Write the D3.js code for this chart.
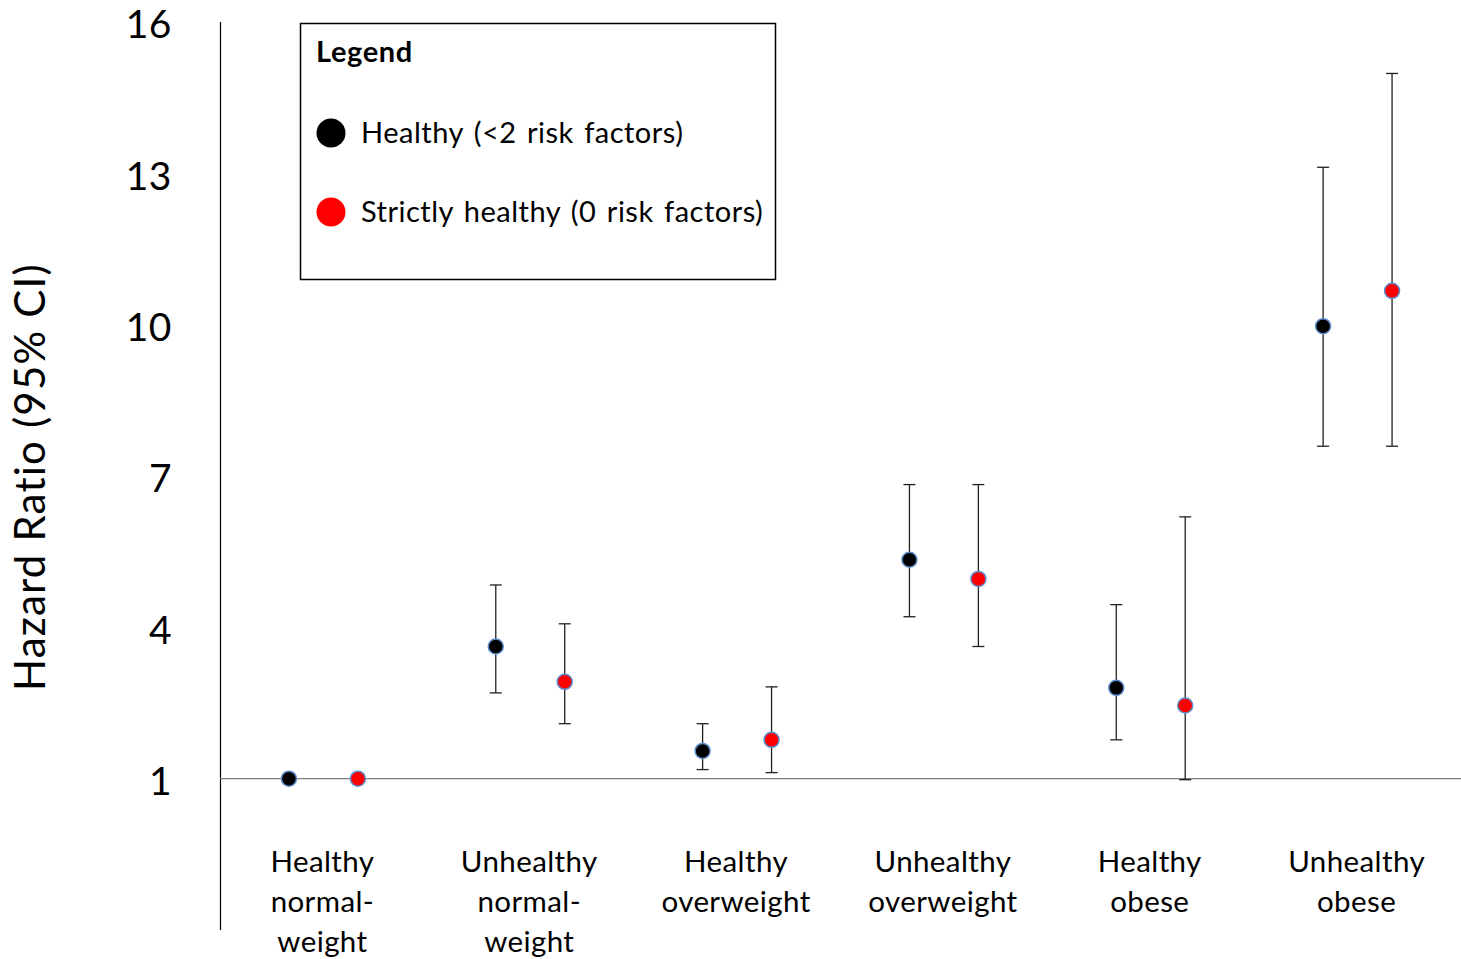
<!DOCTYPE html>
<html>
<head>
<meta charset="utf-8">
<script src="https://cdn.jsdelivr.net/npm/d3@7"></script>
<style>
  body { margin: 0; background: #fff; }
  svg text { font-family: Lato, "Open Sans", sans-serif; fill: #000; }
</style>
</head>
<body>
<svg id="chart" width="1461" height="959"></svg>
<script>
const categories = [
    ["Healthy", "normal-", "weight"],
    ["Unhealthy", "normal-", "weight"],
    ["Healthy", "overweight"],
    ["Unhealthy", "overweight"],
    ["Healthy", "obese"],
    ["Unhealthy", "obese"]
];
const seriesNames = ["Healthy (<2 risk factors)", "Strictly healthy (0 risk factors)"];
const seriesColors = ["#000000", "#ff0000"];

// hazard ratio, lower and upper 95% CI
const healthyHR = [1.00, 3.62, 1.55, 5.34, 2.80, 9.97];
const healthyLow = [1.00, 2.70, 1.18, 4.21, 1.77, 7.59];
const healthyHigh = [1.00, 4.84, 2.09, 6.83, 4.45, 13.12];
const strictHR = [1.00, 2.92, 1.77, 4.96, 2.45, 10.67];
const strictLow = [1.00, 2.09, 1.12, 3.62, 0.98, 7.59];
const strictHigh = [1.00, 4.07, 2.82, 6.83, 6.19, 14.98];

const yTicks = [1, 4, 7, 10, 13, 16];

const svg = d3.select("#chart");

const x = d3.scaleBand()
    .domain(d3.range(categories.length))
    .range([220, 1461]);

const y = d3.scaleLinear()
    .domain([-2, 16])
    .range([930, 22]);

const offset = x.bandwidth() / 6;

// y axis line
svg.append("line")
    .attr("x1", 220.5).attr("x2", 220.5)
    .attr("y1", y(16)).attr("y2", y(-2))
    .attr("stroke", "#000").attr("stroke-width", 1.2);

// baseline at HR = 1
svg.append("line")
    .attr("x1", 220).attr("x2", 1461)
    .attr("y1", y(1)).attr("y2", y(1))
    .attr("stroke", "#7f7f7f").attr("stroke-width", 1.3);

svg.append("g")
    .selectAll("text")
    .data(yTicks)
    .join("text")
    .attr("x", 172)
    .attr("y", d => y(d))
    .attr("dy", "0.42em")
    .attr("text-anchor", "end")
    .attr("font-size", 39)
    .attr("letter-spacing", 0.5)
    .text(d => d);

svg.append("text")
    .attr("transform", `translate(45, ${y(7) + 1}) rotate(-90)`)
    .attr("text-anchor", "middle")
    .attr("font-size", 42)
    .attr("letter-spacing", 1.2)
    .text("Hazard Ratio (95% CI)");

// category labels
const catG = svg.append("g");
categories.forEach((lines, i) => {
    const t = catG.append("text")
        .attr("text-anchor", "middle")
        .attr("font-size", 29.5)
        .attr("letter-spacing", 0.4);
    lines.forEach((ln, j) => {
        t.append("tspan")
            .attr("x", x(i) + x.bandwidth() / 2 - 1)
            .attr("y", 872 + j * 40)
            .text(ln);
    });
});

const series = [
    { hr: healthyHR, lo: healthyLow, hi: healthyHigh, dx: -offset, color: seriesColors[0] },
    { hr: strictHR, lo: strictLow, hi: strictHigh, dx: offset, color: seriesColors[1] }
];

series.forEach(s => {
    const g = svg.append("g");
    const pts = s.hr.map((v, i) => ({
        cx: x(i) + x.bandwidth() / 2 + s.dx,
        v: v, lo: s.lo[i], hi: s.hi[i]
    }));
    const bars = pts.filter(p => p.hi > p.lo);
    g.selectAll(".whisker")
        .data(bars)
        .join("line")
        .attr("x1", p => p.cx).attr("x2", p => p.cx)
        .attr("y1", p => y(p.hi)).attr("y2", p => y(p.lo))
        .attr("stroke", "#222").attr("stroke-width", 1.3);
    ["hi", "lo"].forEach(k => {
        g.selectAll(".cap-" + k)
            .data(bars)
            .join("line")
            .attr("x1", p => p.cx - 6).attr("x2", p => p.cx + 6)
            .attr("y1", p => y(p[k])).attr("y2", p => y(p[k]))
            .attr("stroke", "#222").attr("stroke-width", 1.3);
    });
    g.selectAll("circle")
        .data(pts)
        .join("circle")
        .attr("cx", p => p.cx)
        .attr("cy", p => y(p.v))
        .attr("r", 7.5)
        .attr("fill", s.color)
        .attr("stroke", "#5b8ccc")
        .attr("stroke-width", 1.5);
});

// legend
const legend = svg.append("g");
legend.append("rect")
    .attr("x", 300.5).attr("y", 23.5)
    .attr("width", 475).attr("height", 256)
    .attr("fill", "#fff").attr("stroke", "#000").attr("stroke-width", 1.5);
legend.append("text")
    .attr("x", 316).attr("y", 62)
    .attr("font-size", 29).attr("font-weight", "bold")
    .attr("letter-spacing", 0.6)
    .text("Legend");
seriesNames.forEach((name, i) => {
    const cy = 133 + i * 79;
    legend.append("circle")
        .attr("cx", 331).attr("cy", cy).attr("r", 14.5)
        .attr("fill", seriesColors[i]);
    legend.append("text")
        .attr("x", 361).attr("y", cy)
        .attr("dy", "0.36em")
        .attr("font-size", 29)
        .attr("letter-spacing", 0.5)
        .attr("word-spacing", 2.5)
        .text(name);
});
</script>
</body>
</html>
